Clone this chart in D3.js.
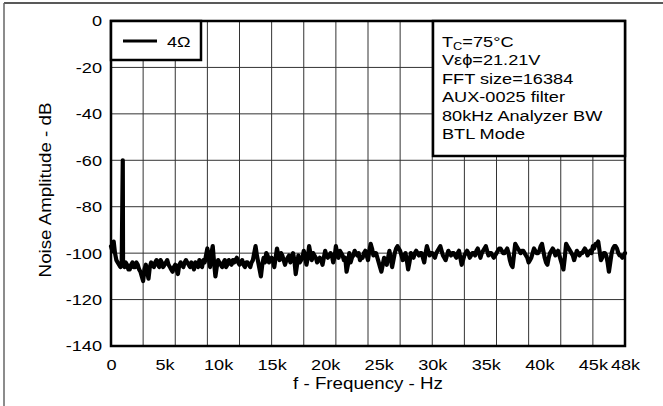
<!DOCTYPE html>
<html>
<head>
<meta charset="utf-8">
<script src="https://cdn.jsdelivr.net/npm/d3@7"></script>
<style>
  html, body { margin: 0; padding: 0; background: #fff; }
  svg { display: block; }
  text { font-family: "Liberation Sans", Arial, sans-serif; fill: #000; }
</style>
</head>
<body>
<svg id="chart" width="663" height="406"></svg>
<script>
// Output noise spectrum, dB. Even bins sit at 0, 250, 500 ... 48000 Hz,
// odd bins halfway between them (125, 375 ... 47875 Hz).
const binStepHz = 250;
const noiseDb = [
  -97, -95, -103, -105, -104, -106, -105, -107, -104, -106,
  -105, -108, -112, -105, -111, -104, -106, -103, -106, -104,
  -105, -103, -106, -108, -105, -109, -104, -106, -103, -105,
  -104, -107, -105, -103, -106, -104, -98, -106, -97, -110,
  -103, -105, -104, -106, -103, -105, -104, -102, -105, -103,
  -106, -104, -106, -103, -97, -104, -110, -102, -100, -104,
  -102, -106, -98, -103, -101, -105, -102, -104, -100, -109,
  -101, -103, -99, -105, -97, -103, -101, -104, -102, -105,
  -99, -102, -100, -104, -97, -102, -100, -103, -108, -100,
  -102, -99, -101, -103, -102, -99, -103, -96, -101, -100,
  -104, -108, -102, -105, -99, -106, -100, -97, -99, -103,
  -100, -107, -100, -102, -99, -101, -100, -104, -97, -101,
  -100, -102, -99, -97, -101, -103, -99, -101, -100, -102,
  -99, -105, -101, -99, -102, -100, -101, -98, -102, -99,
  -97, -101, -100, -102, -100, -98, -99, -100, -98, -103,
  -106, -96, -98, -100, -99, -101, -104, -102, -98, -100,
  -99, -96, -102, -105, -100, -98, -101, -99, -103, -107,
  -96, -98, -100, -103, -99, -101, -100, -98, -101, -99,
  -97, -96, -95, -103, -100, -101, -108, -100, -97, -98,
  -101, -102, -100
];
const noiseMidDb = [
  -99, -100, -104, -106, -105, -104, -107, -105, -106, -104,
  -107, -110, -107, -108, -106, -105, -104, -105, -103, -106,
  -104, -105, -107, -106, -107, -105, -105, -104, -104, -106,
  -105, -104, -106, -105, -103, -101, -102, -100, -104, -106,
  -104, -106, -103, -105, -104, -103, -103,
  -104, -104, -105, -104, -105, -104, -100, -101, -107, -105,
  -104, -101, -103, -103, -102, -101, -100, -103, -103, -101,
  -102, -103, -105, -104, -102, -101, -102, -100, -100, -102,
  -103, -103, -102, -101, -101, -101, -102, -100, -99, -101,
  -102, -105, -104, -101, -100, -100, -102,
  -100, -101, -99, -98, -100, -102, -106, -105, -103, -102,
  -102, -103, -98, -98, -101, -101, -103, -104, -101, -100,
  -100, -100, -102, -100, -99, -100, -101, -100, -98, -99,
  -102, -101, -100, -100, -101, -100, -102, -103, -100, -100,
  -101, -100, -99, -100, -100, -98, -99, -100, -101,
  -101, -99, -98, -100, -99, -100, -105, -101, -97, -99,
  -99, -100, -102, -103, -100, -99, -100, -97, -99, -104,
  -102, -99, -99, -100, -101, -105, -102, -97, -99, -101,
  -101, -100, -100, -99, -99, -100, -100, -98, -96, -99,
  -102, -100, -104, -104, -98, -97, -100, -101, -101
];
// 1 kHz test-tone residue
const toneHz = 1100;
const toneDb = -60;

const xTicks = [0, 5000, 10000, 15000, 20000, 25000, 30000, 35000, 40000, 45000, 48000];
const xTickLabels = ["0", "5k", "10k", "15k", "20k", "25k", "30k", "35k", "40k", "45k", "48k"];
const xGrid = [3000, 6000, 9000, 12000, 15000, 18000, 21000, 24000, 27000, 30000, 33000, 36000, 39000, 42000, 45000];
const yTicks = [0, -20, -40, -60, -80, -100, -120, -140];
const yTickLabels = ["0", "-20", "-40", "-60", "-80", "-100", "-120", "-140"];
const conditions = ["FFT size=16384", "AUX-0025 filter", "80kHz Analyzer BW", "BTL Mode"];

const svg = d3.select("#chart");
const plot = { left: 111, right: 625, top: 21, bottom: 346 };
const x = d3.scaleLinear().domain([0, 48000]).range([plot.left, plot.right]);
const y = d3.scaleLinear().domain([-140, 0]).range([plot.bottom, plot.top]);
const WIDEN = 1.17;

// Points: both bin sets plus the tone line, in frequency order
const points = noiseDb.map((v, i) => ({ f: i * binStepHz, db: v }))
  .concat(noiseMidDb.map((v, i) => ({ f: i * binStepHz + binStepHz / 2, db: v })));
points.push({ f: toneHz, db: toneDb });
points.sort((a, b) => a.f - b.f);

// Outer frame lines
svg.append("line").attr("x1", 4).attr("y1", 3).attr("x2", 663).attr("y2", 3)
  .attr("stroke", "#222").attr("stroke-width", 1.5);
svg.append("line").attr("x1", 4).attr("y1", 3).attr("x2", 4).attr("y2", 406)
  .attr("stroke", "#666").attr("stroke-width", 1.5);

// Grid
const grid = svg.append("g");
grid.selectAll(".vg").data(xGrid).join("line")
  .attr("x1", d => x(d)).attr("x2", d => x(d))
  .attr("y1", plot.top).attr("y2", plot.bottom)
  .attr("stroke", "#333").attr("stroke-width", 1);
grid.selectAll(".hg").data(yTicks.filter(d => d > -140 && d < 0)).join("line")
  .attr("x1", plot.left).attr("x2", plot.right)
  .attr("y1", d => y(d)).attr("y2", d => y(d))
  .attr("stroke", "#333").attr("stroke-width", 1);

// Trace
const line = d3.line().x(d => x(d.f)).y(d => y(d.db));
svg.append("path").datum(points)
  .attr("d", line)
  .attr("fill", "none").attr("stroke", "#000")
  .attr("stroke-width", 4.2).attr("stroke-linejoin", "round").attr("stroke-linecap", "round");

// Plot border
svg.append("rect")
  .attr("x", plot.left).attr("y", plot.top)
  .attr("width", plot.right - plot.left).attr("height", plot.bottom - plot.top)
  .attr("fill", "none").attr("stroke", "#000").attr("stroke-width", 2.5);

// Axes (labels only)
const xAxis = d3.axisBottom(x).tickValues(xTicks).tickSize(0)
  .tickFormat((d, i) => xTickLabels[i]);
const gx = svg.append("g").attr("transform", `translate(0,${plot.bottom + 10})`).call(xAxis);
gx.select(".domain").remove();
gx.selectAll("text").attr("font-size", 15.5).attr("font-family", "Liberation Sans, Arial, sans-serif")
  .attr("fill", "#000").attr("dy", "0.71em");

const yAxis = d3.axisLeft(y).tickValues(yTicks).tickSize(0)
  .tickFormat((d, i) => yTickLabels[i]);
const gy = svg.append("g").attr("transform", `translate(${plot.left - 9},0)`).call(yAxis);
gy.select(".domain").remove();
gy.selectAll("text").attr("font-size", 15.5).attr("font-family", "Liberation Sans, Arial, sans-serif")
  .attr("fill", "#000").attr("x", 0);

// Axis titles
svg.append("text")
  .attr("x", 368).attr("y", 389).attr("text-anchor", "middle")
  .attr("font-size", 16).text("f - Frequency - Hz");
svg.append("text")
  .attr("transform", "translate(51,190) rotate(-90)").attr("text-anchor", "middle")
  .attr("font-size", 16).text("Noise Amplitude - dB");

// Legend
const lg = svg.append("g");
lg.append("rect").attr("x", plot.left).attr("y", plot.top).attr("width", 90).attr("height", 39)
  .attr("fill", "#fff").attr("stroke", "#000").attr("stroke-width", 2.5);
lg.append("line").attr("x1", 123).attr("x2", 157).attr("y1", 41).attr("y2", 41)
  .attr("stroke", "#000").attr("stroke-width", 3.2);
lg.append("text").attr("x", 167).attr("y", 46.5)
  .attr("font-size", 15.5).text("4Ω");

// Conditions box
const cb = svg.append("g");
cb.append("rect").attr("x", 433).attr("y", plot.top).attr("width", plot.right - 433).attr("height", 135)
  .attr("fill", "#fff").attr("stroke", "#000").attr("stroke-width", 2.5);
const t1 = cb.append("text").attr("x", 442).attr("y", 46.5).attr("font-size", 15.5);
t1.append("tspan").text("T");
t1.append("tspan").attr("font-size", 11).attr("dy", 3).text("C");
t1.append("tspan").attr("dy", -3).text("=75°C");
cb.append("text").attr("x", 442).attr("y", 65).attr("font-size", 15.5).text("Vεϕ=21.21V");
cb.selectAll(".cond").data(conditions).join("text")
  .attr("x", 442).attr("y", (d, i) => 83.5 + i * 18.5).attr("font-size", 15.5).text(d => d);

// Slightly wide lettering
svg.selectAll("text").each(function () {
  const w = this.getComputedTextLength();
  if (w > 0) {
    d3.select(this).attr("textLength", w * WIDEN).attr("lengthAdjust", "spacingAndGlyphs");
  }
});
</script>
</body>
</html>
